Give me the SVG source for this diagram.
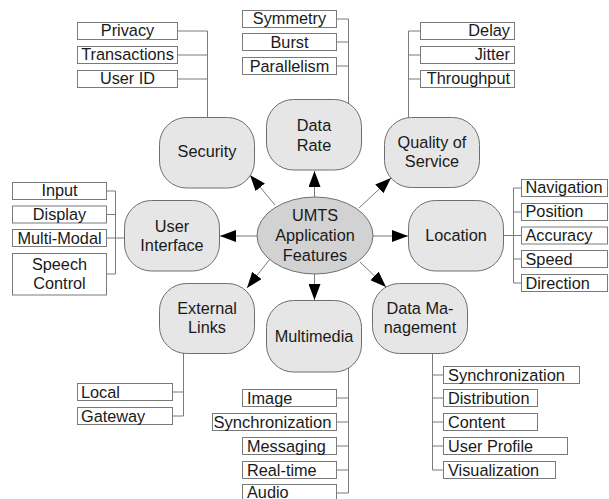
<svg xmlns="http://www.w3.org/2000/svg" width="609" height="499" viewBox="0 0 609 499">
  <style>
    text { font-family: "Liberation Sans", Arial, sans-serif; font-size: 16.3px; fill: #1a1a1a; }
    .node { fill: #e6e6e6; stroke: #6e6e6e; stroke-width: 1; }
    .hub { fill: #d2d2d2; stroke: #6e6e6e; stroke-width: 1; }
    .box { fill: #ffffff; stroke: #7a7a7a; stroke-width: 1; }
    .tree { fill: none; stroke: #7a7a7a; stroke-width: 1; }
    .arrow { fill: none; stroke: #7a7a7a; stroke-width: 1; marker-end: url(#head); }
    .c { text-anchor: middle; }
    .r { text-anchor: end; }
  </style>
  <defs>
    <marker id="head" viewBox="0 0 16 12" refX="16" refY="6" markerWidth="16" markerHeight="12" markerUnits="userSpaceOnUse" orient="auto">
      <path d="M0,0 L16,6 L0,12 Z" fill="#000"/>
    </marker>
  </defs>

  <rect width="609" height="499" fill="#ffffff"/>

  <!-- connectors: hub arrows and attribute trees -->
  <g id="connectors">
    <line class="arrow" x1="314.5" y1="197" x2="314.5" y2="171"/>
    <line class="arrow" x1="314.5" y1="274" x2="314.5" y2="300"/>
    <line class="arrow" x1="257" y1="236" x2="220" y2="236"/>
    <line class="arrow" x1="373" y1="236" x2="408" y2="236"/>
    <line class="arrow" x1="275" y1="205" x2="250" y2="175"/>
    <line class="arrow" x1="359" y1="208" x2="391" y2="178"/>
    <line class="arrow" x1="270" y1="259" x2="247" y2="288"/>
    <line class="arrow" x1="360" y1="262" x2="386" y2="287"/>

    <!-- Security tree -->
    <path class="tree" d="M207.5,117.5 V31 M177.5,31 H207.5 M177.5,55 H207.5 M177.5,79 H207.5"/>
    <!-- Data Rate tree -->
    <path class="tree" d="M348.5,104 V19 M336.5,19 H348.5 M336.5,42 H348.5 M336.5,66 H348.5"/>
    <!-- Quality of Service tree -->
    <path class="tree" d="M408.5,117.5 V31 M408.5,31 H420.5 M408.5,55 H420.5 M408.5,79 H420.5"/>
    <!-- User Interface tree -->
    <path class="tree" d="M115.5,191 V274 M106.5,191 H115.5 M106.5,214.5 H115.5 M106.5,238 H124.5 M106.5,274 H115.5"/>
    <!-- Location tree -->
    <path class="tree" d="M513.5,188 V283 M503.5,235.5 H521.5 M513.5,188 H521.5 M513.5,212 H521.5 M513.5,259 H521.5 M513.5,283 H521.5"/>
    <!-- External Links tree -->
    <path class="tree" d="M183.5,353 V416 M172.5,392 H183.5 M172.5,416 H183.5"/>
    <!-- Multimedia tree -->
    <path class="tree" d="M348.5,368 V493 M336.5,398 H348.5 M336.5,422 H348.5 M336.5,446 H348.5 M336.5,470 H348.5 M336.5,493 H348.5"/>
    <!-- Data Management tree -->
    <path class="tree" d="M432.5,353.5 V470 M432.5,375 H443.5 M432.5,398 H443.5 M432.5,422 H443.5 M432.5,446 H443.5 M432.5,470 H443.5"/>
  </g>

  <!-- central hub -->
  <g id="hub">
    <ellipse class="hub" cx="315" cy="235.5" rx="58" ry="38.5"/>
    <text class="c" x="315" y="221">UMTS</text>
    <text class="c" x="315" y="241">Application</text>
    <text class="c" x="315" y="260.5">Features</text>
  </g>

  <g id="security">
    <rect class="node" x="159.5" y="117.5" width="95" height="70.5" rx="27" ry="27"/>
    <text class="c" x="207" y="157">Security</text>
    <rect class="box" x="77.5" y="22.5" width="100" height="17"/>
    <text class="c" x="127.5" y="36">Privacy</text>
    <rect class="box" x="77.5" y="46.5" width="100" height="17"/>
    <text class="c" x="127.5" y="60">Transactions</text>
    <rect class="box" x="77.5" y="70.5" width="100" height="17"/>
    <text class="c" x="127.5" y="84">User ID</text>
  </g>

  <g id="data-rate">
    <rect class="node" x="266.5" y="99.5" width="95" height="70.5" rx="27" ry="27"/>
    <text class="c" x="314" y="131">Data</text>
    <text class="c" x="314" y="151">Rate</text>
    <rect class="box" x="242.5" y="10.5" width="94" height="17"/>
    <text class="c" x="289.5" y="24">Symmetry</text>
    <rect class="box" x="242.5" y="33.5" width="94" height="17"/>
    <text class="c" x="289.5" y="47.5">Burst</text>
    <rect class="box" x="242.5" y="57.5" width="94" height="17"/>
    <text class="c" x="289.5" y="71.5">Parallelism</text>
  </g>

  <g id="quality-of-service">
    <rect class="node" x="384.5" y="117.5" width="95" height="70" rx="27" ry="27"/>
    <text class="c" x="432" y="148">Quality of</text>
    <text class="c" x="432" y="167">Service</text>
    <rect class="box" x="420.5" y="22.5" width="94" height="17"/>
    <text class="r" x="510" y="36">Delay</text>
    <rect class="box" x="420.5" y="46.5" width="94" height="17"/>
    <text class="r" x="510" y="60">Jitter</text>
    <rect class="box" x="420.5" y="70.5" width="94" height="17"/>
    <text class="r" x="510" y="84">Throughput</text>
  </g>

  <g id="user-interface">
    <rect class="node" x="124.5" y="200.5" width="95" height="70.5" rx="27" ry="27"/>
    <text class="c" x="172" y="232">User</text>
    <text class="c" x="172" y="251">Interface</text>
    <rect class="box" x="12.5" y="182.5" width="94" height="17"/>
    <text class="c" x="59.5" y="196">Input</text>
    <rect class="box" x="12.5" y="206" width="94" height="17"/>
    <text class="c" x="59.5" y="220">Display</text>
    <rect class="box" x="12.5" y="229.5" width="94" height="17"/>
    <text class="c" x="59.5" y="243.5">Multi-Modal</text>
    <rect class="box" x="12.5" y="253.5" width="94" height="41.5"/>
    <text class="c" x="59.5" y="270">Speech</text>
    <text class="c" x="59.5" y="288.5">Control</text>
  </g>

  <g id="location">
    <rect class="node" x="408.5" y="200.5" width="95" height="70.5" rx="27" ry="27"/>
    <text class="c" x="456" y="241">Location</text>
    <rect class="box" x="521.5" y="179.5" width="86" height="17"/>
    <text x="525.5" y="193">Navigation</text>
    <rect class="box" x="521.5" y="203.5" width="86" height="17"/>
    <text x="525.5" y="217">Position</text>
    <rect class="box" x="521.5" y="227" width="86" height="17"/>
    <text x="525.5" y="241">Accuracy</text>
    <rect class="box" x="521.5" y="250.5" width="86" height="17"/>
    <text x="525.5" y="264.5">Speed</text>
    <rect class="box" x="521.5" y="274.5" width="86" height="17"/>
    <text x="525.5" y="288.5">Direction</text>
  </g>

  <g id="external-links">
    <rect class="node" x="159.5" y="283.5" width="95" height="70" rx="27" ry="27"/>
    <text class="c" x="207" y="314">External</text>
    <text class="c" x="207" y="333">Links</text>
    <rect class="box" x="77.5" y="383.5" width="95" height="17"/>
    <text x="81" y="397.5">Local</text>
    <rect class="box" x="77.5" y="407.5" width="95" height="17"/>
    <text x="81" y="421.5">Gateway</text>
  </g>

  <g id="multimedia">
    <rect class="node" x="266.5" y="300.5" width="95" height="71.5" rx="27" ry="27"/>
    <text class="c" x="314" y="342">Multimedia</text>
    <rect class="box" x="242.5" y="389.5" width="94" height="17"/>
    <text x="247" y="403.5">Image</text>
    <rect class="box" x="212.5" y="413.5" width="124" height="17"/>
    <text x="213.5" y="427.5" textLength="118" lengthAdjust="spacingAndGlyphs">Synchronization</text>
    <rect class="box" x="242.5" y="437.5" width="94" height="17"/>
    <text x="247" y="451.5">Messaging</text>
    <rect class="box" x="242.5" y="461.5" width="94" height="17"/>
    <text x="247" y="475.5">Real-time</text>
    <rect class="box" x="242.5" y="484.5" width="94" height="17"/>
    <text x="247" y="497.5">Audio</text>
  </g>

  <g id="data-management">
    <rect class="node" x="372.5" y="283.5" width="95" height="70" rx="27" ry="27"/>
    <text class="c" x="420" y="314">Data Ma-</text>
    <text class="c" x="420" y="333">nagement</text>
    <rect class="box" x="443.5" y="366.5" width="136" height="17"/>
    <text x="448" y="380.5" textLength="117" lengthAdjust="spacingAndGlyphs">Synchronization</text>
    <rect class="box" x="443.5" y="389.5" width="94" height="17"/>
    <text x="448" y="403.5">Distribution</text>
    <rect class="box" x="443.5" y="413.5" width="94" height="17"/>
    <text x="448" y="427.5">Content</text>
    <rect class="box" x="443.5" y="437.5" width="124" height="17"/>
    <text x="448" y="451.5">User Profile</text>
    <rect class="box" x="443.5" y="461.5" width="112" height="17"/>
    <text x="448" y="475.5">Visualization</text>
  </g>
</svg>
